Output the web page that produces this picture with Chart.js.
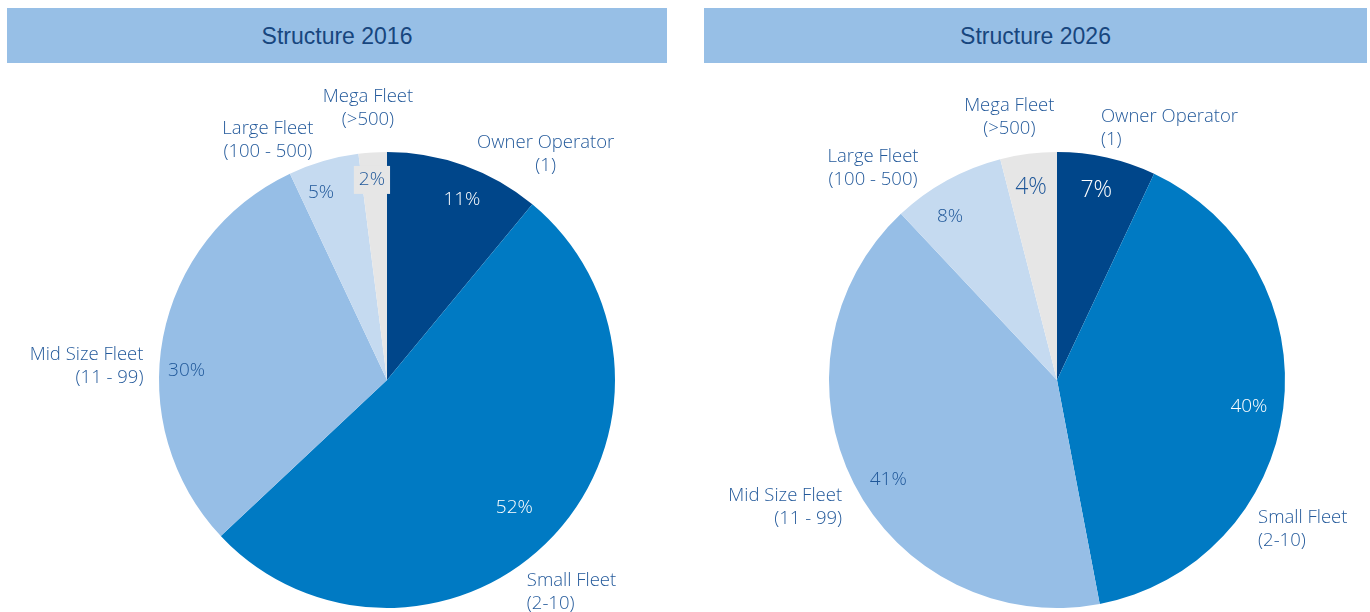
<!DOCTYPE html>
<html>
<head>
<meta charset="utf-8">
<script src="https://cdn.jsdelivr.net/npm/chart.js@4"></script>
<style>
    body { margin: 0; background: #ffffff; }
    .wrap { position: relative; width: 1370px; height: 612px; overflow: hidden; }
    .header {
        position: absolute; top: 8px; height: 55px;
        background: #97bfe6; color: #17467e;
        font-family: "Liberation Sans", Arial, sans-serif; font-size: 23px;
        display: flex; align-items: center; justify-content: center;
        padding-top: 2px; box-sizing: border-box;
    }
    .panel { position: absolute; top: 0; width: 685px; height: 612px; }
</style>
</head>
<body>
<div class="wrap">
    <div class="header" style="left:7px; width:660px;">Structure 2016</div>
    <div class="header" style="left:704px; width:663px;">Structure 2026</div>
    <div class="panel" style="left:0px;"><canvas id="pie2016"></canvas></div>
    <div class="panel" style="left:685px;"><canvas id="pie2026"></canvas></div>
</div>
<script>
const categories = ['Owner Operator', 'Small Fleet', 'Mid Size Fleet', 'Large Fleet', 'Mega Fleet'];
const subLabels = ['(1)', '(2-10)', '(11 - 99)', '(100 - 500)', '(>500)'];
const share2016 = [11, 52, 30, 5, 2];
const share2026 = [7, 40, 41, 8, 4];

const sliceColors = ['#00468a', '#007ac3', '#96bee6', '#c5daf0', '#e6e6e6'];
const pctColors = ['#ffffff', '#ffffff', '#1f5799', '#1f5799', '#1f5799'];
const nameColor = '#245a9b';
const labelFont = '"Open Sans", Roboto, sans-serif';

// where the category names sit: angle (deg, 0 = right, clockwise) and distance in radii
const nameSpots2016 = [
    { angle: -54.9, dist: 1.21, align: 'center' },
    { angle: 56.6, dist: 1.114, align: 'left' },
    { angle: 183.3, dist: 1.07, align: 'right' },
    { angle: 243.6, dist: 1.175, align: 'center' },
    { angle: 266, dist: 1.196, align: 'center' }
];
const nameSpots2026 = [
    { angle: -80.1, dist: 1.12, align: 'left' },
    { angle: 36.5, dist: 1.097, align: 'left' },
    { angle: 149.4, dist: 1.095, align: 'right' },
    { angle: 229, dist: 1.23, align: 'center' },
    { angle: 259.7, dist: 1.17, align: 'center' }
];
// percentage labels: turn away from the slice middle (deg) and distance in radii
const pctNudge2016 = [{ turn: 2.8, dist: 0.855 }, { turn: 1.8, dist: 0.79 }, { turn: -8, dist: 0.88 }, { turn: -3.2, dist: 0.87 }, { turn: -0.7, dist: 0.88 }];
const pctNudge2026 = [{ turn: -0.9, dist: 0.85 }, { turn: 0.8, dist: 0.85 }, { turn: -3.6, dist: 0.86 }, { turn: -4.5, dist: 0.855 }, { turn: -0.5, dist: 0.85 }];
const pctSize2016 = [19, 19, 19, 19, 19];
const pctSize2026 = [23, 19, 19, 19, 23];

const pieLabels = {
    id: 'pieLabels',
    afterDatasetsDraw(chart, args, opts) {
        const ctx = chart.ctx;
        const arcs = chart.getDatasetMeta(0).data;
        const values = chart.data.datasets[0].data;
        ctx.save();
        ctx.textBaseline = 'middle';
        arcs.forEach((arc, i) => {
            const nudge = opts.pctNudge[i];
            const mid = (arc.startAngle + arc.endAngle) / 2 + nudge.turn * Math.PI / 180;
            const r = arc.outerRadius;
            // percentage inside the slice
            const px = arc.x + Math.cos(mid) * r * nudge.dist;
            const py = arc.y + Math.sin(mid) * r * nudge.dist;
            const txt = values[i] + '%';
            ctx.font = '300 ' + opts.pctSize[i] + 'px ' + labelFont;
            ctx.textAlign = 'center';
            if (opts.boxed && opts.boxed[i]) {
                const w = ctx.measureText(txt).width + 10;
                ctx.fillStyle = sliceColors[i];
                ctx.fillRect(px - w / 2, py - 14, w, 28);
            }
            ctx.fillStyle = pctColors[i];
            ctx.fillText(txt, px, py);

            // category name outside
            const spot = opts.spots[i];
            const a = spot.angle * Math.PI / 180;
            const nx = arc.x + Math.cos(a) * r * spot.dist;
            const ny = arc.y + Math.sin(a) * r * spot.dist;
            ctx.font = '300 18.5px ' + labelFont;
            ctx.textAlign = spot.align;
            ctx.fillStyle = nameColor;
            ctx.fillText(categories[i], nx, ny - 11.5);
            ctx.fillText(subLabels[i], nx, ny + 11.5);
        });
        ctx.restore();
    }
};

const makePie = (id, values, padLeft, spots, pctNudge, pctSize, boxed) => {
    return new Chart(document.getElementById(id), {
        type: 'pie',
        data: {
            labels: categories,
            datasets: [{
                data: values,
                backgroundColor: sliceColors,
                borderWidth: 0,
                hoverOffset: 0
            }]
        },
        options: {
            responsive: true,
            maintainAspectRatio: false,
            animation: false,
            radius: 228,
            layout: { padding: { left: padLeft, right: 11, top: 152, bottom: 4 } },
            plugins: {
                legend: { display: false },
                tooltip: { enabled: false },
                pieLabels: { spots: spots, pctNudge: pctNudge, pctSize: pctSize, boxed: boxed }
            }
        },
        plugins: [pieLabels]
    });
};

makePie('pie2016', share2016, 100, nameSpots2016, pctNudge2016, pctSize2016, [false, false, false, false, true]);
makePie('pie2026', share2026, 70, nameSpots2026, pctNudge2026, pctSize2026, null);
</script>
</body>
</html>
